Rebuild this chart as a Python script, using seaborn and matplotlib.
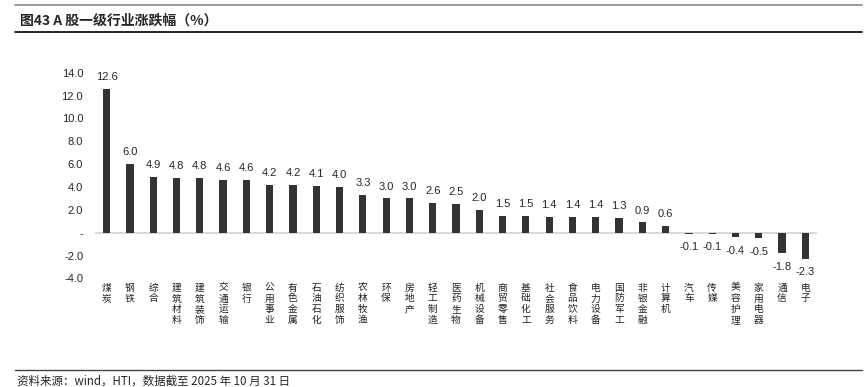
import matplotlib
matplotlib.use("Agg")
import matplotlib.pyplot as plt
import matplotlib.ticker as mticker
from matplotlib.lines import Line2D
import pandas as pd
import seaborn as sns

industries = ["煤炭", "钢铁", "综合", "建筑材料", "建筑装饰", "交通运输", "银行", "公用事业",
              "有色金属", "石油石化", "纺织服饰", "农林牧渔", "环保", "房地产", "轻工制造",
              "医药生物", "机械设备", "商贸零售", "基础化工", "社会服务", "食品饮料", "电力设备",
              "国防军工", "非银金融", "计算机", "汽车", "传媒", "美容护理", "家用电器", "通信", "电子"]
changes = [12.6, 6.0, 4.9, 4.8, 4.8, 4.6, 4.6, 4.2, 4.2, 4.1, 4.0, 3.3, 3.0, 3.0, 2.6,
           2.5, 2.0, 1.5, 1.5, 1.4, 1.4, 1.4, 1.3, 0.9, 0.6, -0.1, -0.1, -0.4, -0.5, -1.8, -2.3]
y_ticks = [-4, -2, 0, 2, 4, 6, 8, 10, 12, 14]

cjk = ["Noto Sans CJK SC", "DejaVu Sans"]
num_font = ["Liberation Sans", "DejaVu Sans"]

sns.set_style("white")
plt.rcParams["font.family"] = cjk

df = pd.DataFrame({"industry": industries, "change": changes})

fig = plt.figure(figsize=(8.66, 3.87), dpi=100)
# axes box: x 95..817 px, y (-4 -> 278.5 px, 14 -> 72.7 px)
ax = fig.add_axes([95 / 866, 1 - 278.5 / 387, 722 / 866, 205.8 / 387])

sns.barplot(data=df, x="industry", y="change", color="#333333", width=0.31,
            saturation=1, linewidth=0, ax=ax)

ax.set_xlim(-0.5, len(industries) - 0.5)
ax.set_ylim(-4, 14)
ax.axhline(0, color="#d6d6d6", lw=1.3, zorder=0)
for s in ax.spines.values():
    s.set_visible(False)

ax.set_xlabel("")
ax.set_ylabel("")
ax.set_yticks(y_ticks)
ax.yaxis.set_major_formatter(mticker.FuncFormatter(lambda v, p: "-" if v == 0 else f"{v:.1f}"))
for lbl in ax.get_yticklabels():
    lbl.set_fontfamily(num_font)
    lbl.set_fontsize(8)
ax.tick_params(axis="y", length=0, pad=8.5)

ax.set_xticks(range(len(industries)))
ax.set_xticklabels(["\n".join(n) for n in industries], fontsize=7, linespacing=1.1,
                   va="top", color="#222222")
ax.tick_params(axis="x", length=0, pad=3)

for i, v in enumerate(changes):
    ax.annotate(f"{v:.1f}", (i, v), xytext=(0, 5 if v >= 0 else -6),
                textcoords="offset points", ha="center",
                va="bottom" if v >= 0 else "top", fontsize=8, family=num_font)

fig.text(20 / 866, 1 - 21 / 387, "图43 A 股一级行业涨跌幅（%）", fontsize=10,
         fontweight="bold", va="center", ha="left")
fig.add_artist(Line2D([15 / 866, 862 / 866], [1 - 5 / 387] * 2, color="#888888", lw=1.2))
fig.add_artist(Line2D([15 / 866, 862 / 866], [1 - 32 / 387] * 2, color="black", lw=1.2))
fig.add_artist(Line2D([15 / 866, 862 / 866], [1 - 370 / 387] * 2, color="#444444", lw=1.0))
fig.text(17 / 866, 1 - 381 / 387, "资料来源：wind，HTI，数据截至 2025 年 10 月 31 日",
         fontsize=8.3, va="center", ha="left")

fig.savefig("out.png", dpi=100)
